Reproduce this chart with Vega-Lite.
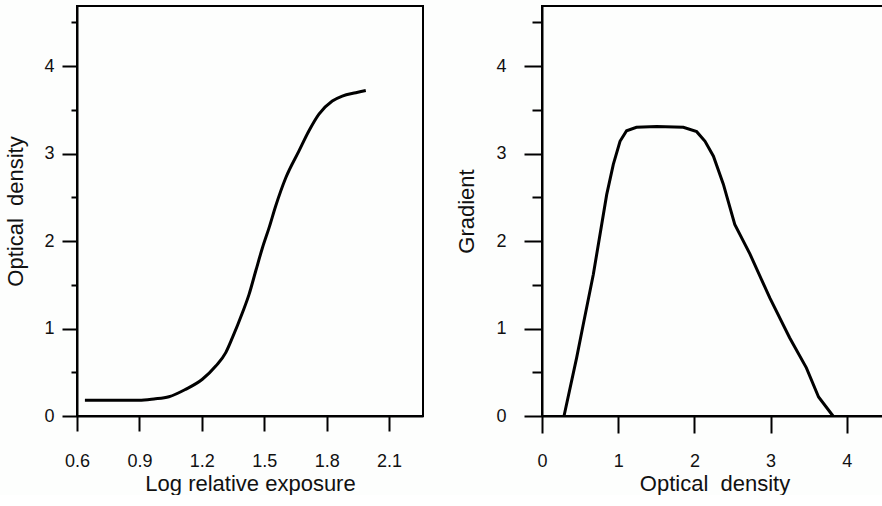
{
  "$schema": "https://vega.github.io/schema/vega-lite/v6.json",
  "background": "#fdfefd",
  "padding": {"left": 3, "top": 5, "right": 0, "bottom": 0},
  "bounds": "flush",
  "spacing": 119,
  "datasets": {
    "curve": [
      {"exposure": 0.638, "density": 0.18},
      {"exposure": 0.898, "density": 0.18},
      {"exposure": 0.97, "density": 0.195},
      {"exposure": 1.042, "density": 0.22},
      {"exposure": 1.122, "density": 0.305},
      {"exposure": 1.2025, "density": 0.42},
      {"exposure": 1.267, "density": 0.571},
      {"exposure": 1.315, "density": 0.724},
      {"exposure": 1.347, "density": 0.895},
      {"exposure": 1.395, "density": 1.18},
      {"exposure": 1.427, "density": 1.39},
      {"exposure": 1.459, "density": 1.657},
      {"exposure": 1.491, "density": 1.92},
      {"exposure": 1.523, "density": 2.15},
      {"exposure": 1.555, "density": 2.4},
      {"exposure": 1.603, "density": 2.72},
      {"exposure": 1.667, "density": 3.03},
      {"exposure": 1.715, "density": 3.26},
      {"exposure": 1.763, "density": 3.45},
      {"exposure": 1.827, "density": 3.6},
      {"exposure": 1.875, "density": 3.657},
      {"exposure": 1.94, "density": 3.695},
      {"exposure": 1.988, "density": 3.72}
    ],
    "gradient": [
      {"density": 0.289, "gradient": 0},
      {"density": 0.455, "gradient": 0.667},
      {"density": 0.542, "gradient": 1.048},
      {"density": 0.674, "gradient": 1.62},
      {"density": 0.849, "gradient": 2.53},
      {"density": 0.936, "gradient": 2.876},
      {"density": 1.024, "gradient": 3.14},
      {"density": 1.11, "gradient": 3.26},
      {"density": 1.24, "gradient": 3.3},
      {"density": 1.505, "gradient": 3.31},
      {"density": 1.855, "gradient": 3.3},
      {"density": 2.03, "gradient": 3.25},
      {"density": 2.14, "gradient": 3.14},
      {"density": 2.25, "gradient": 2.97},
      {"density": 2.38, "gradient": 2.65},
      {"density": 2.53, "gradient": 2.19},
      {"density": 2.73, "gradient": 1.85},
      {"density": 2.99, "gradient": 1.35},
      {"density": 3.25, "gradient": 0.895},
      {"density": 3.47, "gradient": 0.55},
      {"density": 3.63, "gradient": 0.217},
      {"density": 3.82, "gradient": 0}
    ]
  },
  "config": {
    "view": {"stroke": "black", "strokeWidth": 2},
    "axis": {
      "domainColor": "black",
      "domainWidth": 2,
      "tickColor": "black",
      "tickWidth": 2,
      "grid": false,
      "labelFont": "Liberation Sans",
      "labelFontSize": 18,
      "labelColor": "#111111",
      "labelFontWeight": "normal",
      "titleFont": "Liberation Sans",
      "titleFontSize": 22,
      "titleFontWeight": "normal",
      "titleColor": "#111111",
      "labelFlush": false,
      "labelOverlap": false
    }
  },
  "hconcat": [
    {
      "width": 346,
      "height": 410,
      "data": {"name": "curve"},
      "resolve": {"axis": {"x": "independent", "y": "independent"}},
      "layer": [
        {
          "mark": {"type": "line", "color": "black", "strokeWidth": 3, "interpolate": "monotone"},
          "encoding": {
            "x": {
              "field": "exposure", "type": "quantitative",
              "scale": {"domain": [0.6, 2.263], "nice": false, "zero": false},
              "axis": {"values": [0.6, 0.9, 1.2, 1.5, 1.8, 2.1], "format": ".1f", "tickSize": 15, "labelPadding": 21, "title": "Log relative exposure", "titlePadding": 3}
            },
            "y": {
              "field": "density", "type": "quantitative",
              "scale": {"domain": [0, 4.686], "nice": false, "zero": false},
              "axis": {"values": [0, 1, 2, 3, 4], "format": "d", "tickSize": 15, "labelPadding": 8, "title": "Optical\u00a0\u00a0density", "titlePadding": 16}
            }
          }
        },
        {
          "mark": {"type": "line", "opacity": 0},
          "encoding": {
            "x": {"field": "exposure", "type": "quantitative", "axis": null},
            "y": {
              "field": "density", "type": "quantitative",
              "axis": {"orient": "left", "values": [0.5, 1.5, 2.5, 3.5, 4.5], "labels": false, "domain": false, "tickSize": 6, "title": null}
            }
          }
        }
      ]
    },
    {
      "width": 345,
      "height": 410,
      "data": {"name": "gradient"},
      "resolve": {"axis": {"x": "independent", "y": "independent"}},
      "layer": [
        {
          "mark": {"type": "line", "color": "black", "strokeWidth": 3},
          "encoding": {
            "x": {
              "field": "density", "type": "quantitative",
              "scale": {"domain": [0, 4.528], "nice": false, "zero": false},
              "axis": {"values": [0, 1, 2, 3, 4], "format": "d", "tickSize": 17, "labelPadding": 19, "title": "Optical\u00a0\u00a0density", "titlePadding": 3}
            },
            "y": {
              "field": "gradient", "type": "quantitative",
              "scale": {"domain": [0, 4.686], "nice": false, "zero": false},
              "axis": {"values": [0, 1, 2, 3, 4], "format": "d", "tickSize": 18, "labelPadding": 18, "title": "Gradient", "titlePadding": 17}
            }
          }
        },
        {
          "mark": {"type": "line", "opacity": 0},
          "encoding": {
            "x": {"field": "density", "type": "quantitative", "axis": null},
            "y": {
              "field": "gradient", "type": "quantitative",
              "axis": {"orient": "left", "values": [0.5, 1.5, 2.5, 3.5, 4.5], "labels": false, "domain": false, "tickSize": 10, "title": null}
            }
          }
        }
      ]
    }
  ]
}
